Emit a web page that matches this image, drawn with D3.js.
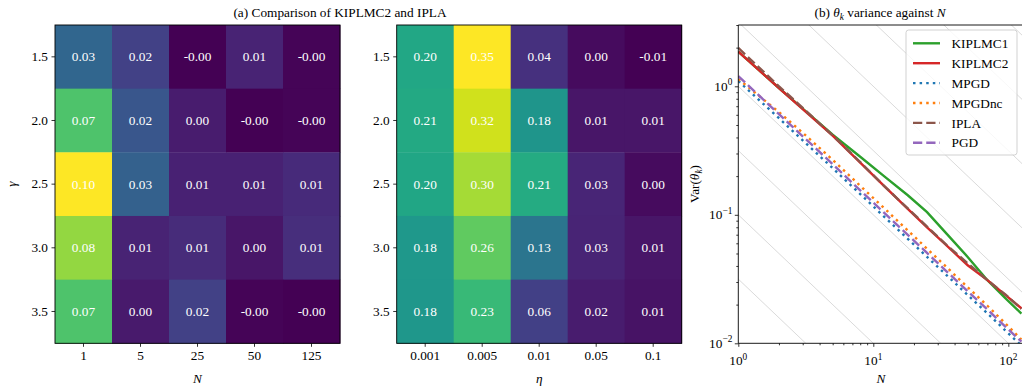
<!DOCTYPE html>
<html><head><meta charset="utf-8">
<script src="https://cdn.jsdelivr.net/npm/d3@7"></script>
<style>
body{margin:0;background:#fff;}
svg{display:block;}
</style></head><body>
<svg id="chart" width="1022" height="389"></svg>
<script>
// ---------- data ----------
const gammas = ["1.5", "2.0", "2.5", "3.0", "3.5"];
const nCats = ["1", "5", "25", "50", "125"];
const etaCats = ["0.001", "0.005", "0.01", "0.05", "0.1"];

const diffByN = [
  [0.030, 0.016, -0.004, 0.006, -0.003],
  [0.071, 0.024, 0.004, -0.004, -0.003],
  [0.100, 0.028, 0.0055, 0.0055, 0.0085],
  [0.083, 0.006, 0.009, 0.002, 0.0095],
  [0.071, 0.003, 0.016, -0.003, -0.004]
];
const diffByEta = [
  [0.204, 0.350, 0.040, 0.001, -0.010],
  [0.207, 0.324, 0.178, 0.011, 0.010],
  [0.203, 0.302, 0.210, 0.027, 0.0004],
  [0.182, 0.262, 0.130, 0.026, 0.010],
  [0.180, 0.232, 0.058, 0.017, 0.008]
];

const nGrid   = [1, 2, 3, 5, 8, 12, 18, 25, 35, 50, 70, 95, 125];
const kiplmc1 = [1.86, 0.97, 0.67, 0.42, 0.283, 0.200, 0.142, 0.105, 0.071, 0.047, 0.031, 0.0225, 0.0170];
const kiplmc2 = [1.86, 0.97, 0.665, 0.413, 0.255, 0.168, 0.111, 0.080, 0.0575, 0.0405, 0.031, 0.0238, 0.0187];
const mpgd    = [1.10, 0.565, 0.380, 0.231, 0.145, 0.097, 0.065, 0.047, 0.0338, 0.0238, 0.0171, 0.0126, 0.0096];
const mpgdnc  = [1.14, 0.630, 0.435, 0.268, 0.168, 0.113, 0.0755, 0.0545, 0.039, 0.0273, 0.0196, 0.0143, 0.0107];
const ipla    = [1.99, 1.00, 0.68, 0.415, 0.257, 0.168, 0.112, 0.081, 0.058, 0.042, 0.031, 0.024, 0.0185];
const pgd     = [1.20, 0.607, 0.408, 0.248, 0.155, 0.104, 0.0698, 0.0505, 0.0362, 0.0254, 0.0183, 0.0135, 0.0103];

const seriesNames  = ["KIPLMC1", "KIPLMC2", "MPGD", "MPGDnc", "IPLA", "PGD"];
const seriesValues = [kiplmc1, kiplmc2, mpgd, mpgdnc, ipla, pgd];
const seriesColors = ["#2ca02c", "#d62728", "#1f77b4", "#ff7f0e", "#8c564b", "#9467bd"];
const seriesDash   = ["none", "none", "2.5,4.1", "2.5,4.1", "9.25,4", "9.25,4"];

const refConsts = [0.001, 0.00316, 0.01, 0.0316, 0.1, 0.316, 1, 3.16, 10, 31.6, 100, 316, 1000];

const yMajor = [0.01, 0.1, 1];
const yMinor = [0.02,0.03,0.04,0.05,0.06,0.07,0.08,0.09,0.2,0.3,0.4,0.5,0.6,0.7,0.8,0.9,2,3];
const xMajor = [1, 10, 100];
const xMinor = [2,3,4,5,6,7,8,9,20,30,40,50,60,70,80,90];

// ---------- drawing ----------
const FONT = "'Liberation Serif','Times New Roman',Times,serif";
const FS = 13.3;
const svg = d3.select("#chart").attr("font-family", FONT);

function styleAxis(g) {
  g.attr("font-family", FONT).attr("font-size", FS);
  g.select(".domain").remove();
  g.selectAll(".tick line").attr("stroke", "#000").attr("stroke-width", 0.8);
  g.selectAll(".tick text").attr("fill", "#000");
}

function heatmap(x0, x1, y0, y1, cols, data, xlabel) {
  const x = d3.scaleBand().domain(cols).range([x0, x1]);
  const y = d3.scaleBand().domain(gammas).range([y0, y1]);
  const color = d3.scaleSequential(d3.interpolateViridis).domain(d3.extent(data.flat()));
  const cells = [];
  gammas.forEach((gm, i) => cols.forEach((c, j) => cells.push({gm, c, v: data[i][j]})));
  const g = svg.append("g");
  g.selectAll("rect.cell").data(cells).join("rect").attr("class", "cell")
    .attr("x", d => x(d.c)).attr("y", d => y(d.gm))
    .attr("width", x.bandwidth() + 0.4).attr("height", y.bandwidth() + 0.4)
    .attr("fill", d => color(d.v));
  g.selectAll("text.ann").data(cells).join("text").attr("class", "ann")
    .attr("x", d => x(d.c) + x.bandwidth() / 2).attr("y", d => y(d.gm) + y.bandwidth() / 2)
    .attr("dy", "0.35em").attr("text-anchor", "middle").attr("fill", "#fff")
    .attr("font-size", FS).text(d => d.v.toFixed(2));
  g.append("rect").attr("x", x0).attr("y", y0).attr("width", x1 - x0).attr("height", y1 - y0)
    .attr("fill", "none").attr("stroke", "#000").attr("stroke-width", 0.9);
  g.append("g").attr("transform", `translate(0,${y1})`)
    .call(d3.axisBottom(x).tickSize(3.5).tickPadding(3.5)).call(styleAxis);
  g.append("g").attr("transform", `translate(${x0},0)`)
    .call(d3.axisLeft(y).tickSize(3.5).tickPadding(3.5)).call(styleAxis);
  g.append("text").attr("x", (x0 + x1) / 2).attr("y", 383).attr("text-anchor", "middle")
    .attr("font-size", FS).attr("font-style", "italic").text(xlabel);
}

heatmap(55, 340, 25, 343.3, nCats, diffByN, "N");
heatmap(396.7, 681.7, 25, 343.3, etaCats, diffByEta, "η");

svg.append("text").attr("transform", "translate(16,184) rotate(-90)")
  .attr("text-anchor", "middle").attr("font-size", FS).attr("font-style", "italic").text("γ");

svg.append("text").attr("x", 340).attr("y", 17).attr("text-anchor", "middle")
  .attr("font-size", FS).text("(a) Comparison of KIPLMC2 and IPLA");

// ---------- right panel ----------
const X0 = 738.3, X1 = 1023.7, Y0 = 25, Y1 = 343.3;
const x = d3.scaleLog().domain([1, 130]).range([X0, X1]);
const y = d3.scaleLog().domain([0.01, 3]).range([Y1, Y0]);

svg.append("defs").append("clipPath").attr("id", "clipR")
  .append("rect").attr("x", X0).attr("y", Y0).attr("width", X1 - X0).attr("height", Y1 - Y0);

const plot = svg.append("g").attr("clip-path", "url(#clipR)");
const nEnds = [1, 130];
plot.selectAll("line.ref").data(refConsts).join("line").attr("class", "ref")
  .attr("x1", x(nEnds[0])).attr("x2", x(nEnds[1]))
  .attr("y1", c => y(c / nEnds[0])).attr("y2", c => y(c / nEnds[1]))
  .attr("stroke", "#d0d0d0").attr("stroke-width", 0.8);

const line = d3.line().x(d => x(d[0])).y(d => y(d[1]));
seriesValues.forEach((vals, i) => {
  plot.append("path").datum(nGrid.map((n, k) => [n, vals[k]]))
    .attr("d", line).attr("fill", "none")
    .attr("stroke", seriesColors[i]).attr("stroke-width", 2.4)
    .attr("stroke-dasharray", seriesDash[i]);
});

// spines
svg.append("g").selectAll("line").data([[X0, Y0, X0, Y1], [X0, Y1, X1, Y1], [X0, Y0, X1, Y0], [X1, Y0, X1, Y1]])
  .join("line").attr("x1", d => d[0]).attr("y1", d => d[1]).attr("x2", d => d[2]).attr("y2", d => d[3])
  .attr("stroke", "#000").attr("stroke-width", 0.9);

// axes
svg.append("g").attr("transform", `translate(0,${Y1})`)
  .call(d3.axisBottom(x).tickValues(xMajor).tickSize(3.5).tickFormat("")).call(styleAxis);
svg.append("g").attr("transform", `translate(0,${Y1})`)
  .call(d3.axisBottom(x).tickValues(xMinor).tickSize(2).tickFormat("")).call(styleAxis);
svg.append("g").attr("transform", `translate(${X0},0)`)
  .call(d3.axisLeft(y).tickValues(yMajor).tickSize(3.5).tickFormat("")).call(styleAxis);
svg.append("g").attr("transform", `translate(${X0},0)`)
  .call(d3.axisLeft(y).tickValues(yMinor).tickSize(2).tickFormat("")).call(styleAxis);

function expLabel(sel, v) {
  const e = Math.round(Math.log10(v));
  sel.append("tspan").text("10");
  sel.append("tspan").attr("dy", -5.5).attr("font-size", 9.3).text(e < 0 ? "−" + (-e) : String(e));
}
xMajor.forEach(v => {
  const t = svg.append("text").attr("x", x(v)).attr("y", 365).attr("text-anchor", "middle").attr("font-size", FS);
  expLabel(t, v);
});
yMajor.forEach(v => {
  const t = svg.append("text").attr("x", X0 - 6).attr("y", y(v) + 4.5).attr("text-anchor", "end").attr("font-size", FS);
  expLabel(t, v);
});

svg.append("text").attr("x", (X0 + X1) / 2).attr("y", 383).attr("text-anchor", "middle")
  .attr("font-size", FS).attr("font-style", "italic").text("N");

const yl = svg.append("text").attr("transform", "translate(699,184) rotate(-90)")
  .attr("text-anchor", "middle").attr("font-size", FS);
yl.append("tspan").text("Var(");
yl.append("tspan").attr("font-style", "italic").text("θ");
yl.append("tspan").attr("font-style", "italic").attr("font-size", 9.3).attr("dy", 2.5).text("k");
yl.append("tspan").attr("dy", -2.5).text(")");

const tb = svg.append("text").attr("x", 880).attr("y", 17).attr("text-anchor", "middle").attr("font-size", FS);
tb.append("tspan").text("(b) ");
tb.append("tspan").attr("font-style", "italic").text("θ");
tb.append("tspan").attr("font-style", "italic").attr("font-size", 9.3).attr("dy", 2.5).text("k");
tb.append("tspan").attr("dy", -2.5).text(" variance against ");
tb.append("tspan").attr("font-style", "italic").text("N");

// legend
const lg = svg.append("g");
lg.append("rect").attr("x", 906).attr("y", 30).attr("width", 111).attr("height", 125).attr("rx", 2.7)
  .attr("fill", "#fff").attr("fill-opacity", 0.8).attr("stroke", "#cccccc").attr("stroke-width", 0.9);
seriesNames.forEach((name, i) => {
  const yy = 43.3 + i * 19.9;
  lg.append("line").attr("x1", 913).attr("x2", 940).attr("y1", yy).attr("y2", yy)
    .attr("stroke", seriesColors[i]).attr("stroke-width", 2.4).attr("stroke-dasharray", seriesDash[i]);
  lg.append("text").attr("x", 951.5).attr("y", yy).attr("dy", "0.35em").attr("font-size", FS).text(name);
});
</script>
</body></html>
